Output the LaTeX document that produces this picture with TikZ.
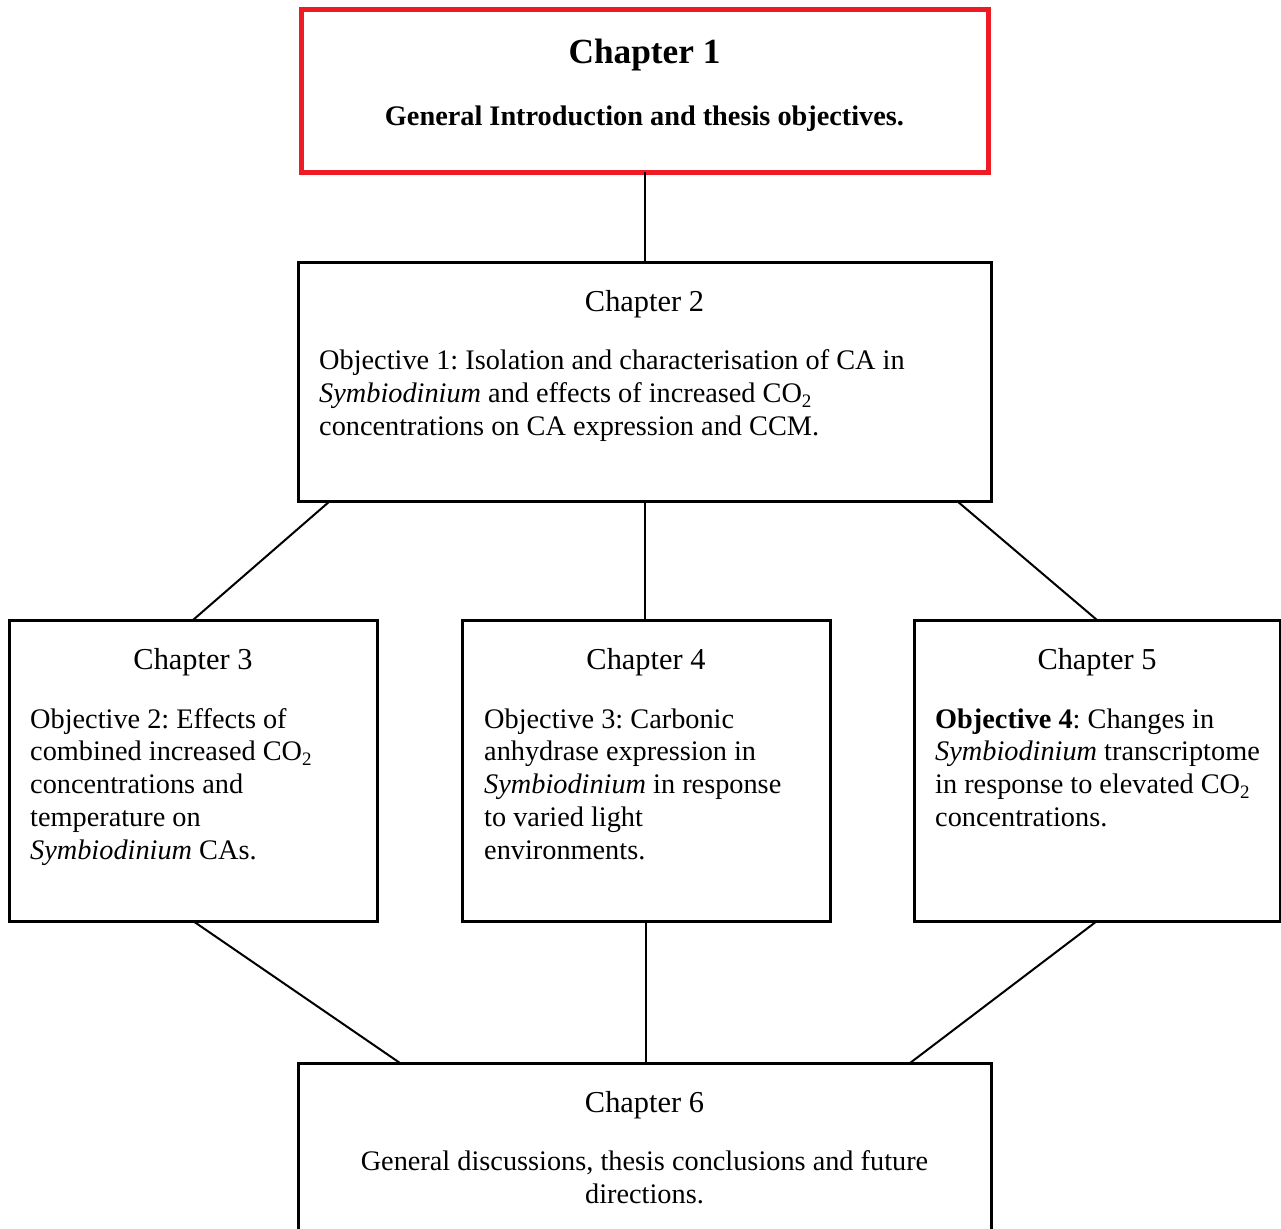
\documentclass[tikz,border=0pt]{standalone}
\usepackage{fontspec}
\setmainfont{Liberation Serif}
\usetikzlibrary{calc}
\frenchspacing
\definecolor{boxred}{RGB}{237,28,36}
\newcommand{\mysubtwo}{\raisebox{-5pt}{\fontsize{19}{19}\selectfont 2}}
\tikzset{
  box/.style={draw=black, line width=3pt, inner sep=0pt, outer sep=0pt},
  redbox/.style={draw=boxred, line width=5pt, inner sep=0pt, outer sep=0pt},
  link/.style={draw=black, line width=2pt},
  head/.style={anchor=base, inner sep=0pt, font=\fontsize{30.4}{33}\selectfont},
  body/.style={anchor=base west, inner sep=0pt, font=\fontsize{28.3}{32.8}\selectfont},
  bodywide/.style={anchor=base west, inner sep=0pt, font=\fontsize{28.3}{33.4}\selectfont},
  bodyc/.style={anchor=base, inner sep=0pt, font=\fontsize{28.3}{33}\selectfont}
}
\begin{document}
\begin{tikzpicture}[x=1pt,y=-1pt]
\useasboundingbox (0,0) rectangle (1281,1228);
\clip (0,0) rectangle (1281,1228);
% boxes
\node[redbox, minimum width=687pt, minimum height=162pt] (c1) at (644.5,91) {};
\node[box, minimum width=693pt, minimum height=239pt] (c2) at (644.5,381.5) {};
\node[box, minimum width=368pt, minimum height=301pt] (c3) at (193,770.5) {};
\node[box, minimum width=368pt, minimum height=301pt] (c4) at (646,770.5) {};
\node[box, minimum width=366pt, minimum height=301pt] (c5) at (1097,770.5) {};
\node[box, minimum width=693pt, minimum height=197pt] (c6) at (644.5,1161.5) {};
% connectors
\draw[link] (c1.south) -- (c2.north);
\draw[link] ($(c2.south west)+(32,0)$) -- (c3.north);
\draw[link] (c2.south) -- (c2.south |- c4.north);
\draw[link] ($(c2.south east)+(-34,0)$) -- (c5.north);
\draw[link] (c3.south) -- ($(c6.north west)+(102,0)$);
\draw[link] (c4.south) -- (c4.south |- c6.north);
\draw[link] (c5.south) -- ($(c6.north east)+(-81,0)$);
% texts
\node[anchor=base, inner sep=0pt, font=\fontsize{35.3}{40}\selectfont\bfseries] (t1a) at (644.5,64) {Chapter 1};
\node[anchor=base, inner sep=0pt, font=\fontsize{28.3}{33}\selectfont\bfseries] (t1b) at (644.5,125) {General Introduction and thesis objectives.};
\node[head] (h2) at (644.5,311) {Chapter 2};
\node[bodywide] (b2) at (319,369) {\begin{tabular}[t]{@{}l@{}}Objective 1: Isolation and characterisation of CA in\\ \textit{Symbiodinium} and effects of increased CO\mysubtwo\\ concentrations on CA expression and CCM.\end{tabular}};
\node[head] (h3) at (193,669) {Chapter 3};
\node[body] (b3) at (30,728) {\begin{tabular}[t]{@{}l@{}}Objective 2: Effects of\\ combined increased CO\mysubtwo\\ concentrations and\\ temperature on\\ \textit{Symbiodinium} CAs.\end{tabular}};
\node[head] (h4) at (646,669) {Chapter 4};
\node[body] (b4) at (484,728) {\begin{tabular}[t]{@{}l@{}}Objective 3: Carbonic\\ anhydrase expression in\\ \textit{Symbiodinium} in response\\ to varied light\\ environments.\end{tabular}};
\node[head] (h5) at (1097,669) {Chapter 5};
\node[body] (b5) at (935,728) {\begin{tabular}[t]{@{}l@{}}\textbf{Objective 4}: Changes in\\ \textit{Symbiodinium} transcriptome\\ in response to elevated CO\mysubtwo\\ concentrations.\end{tabular}};
\node[head] (h6) at (644.5,1112) {Chapter 6};
\node[bodyc] (b6) at (644.5,1170) {\begin{tabular}[t]{@{}c@{}}General discussions, thesis conclusions and future\\ directions.\end{tabular}};
\end{tikzpicture}
\end{document}
